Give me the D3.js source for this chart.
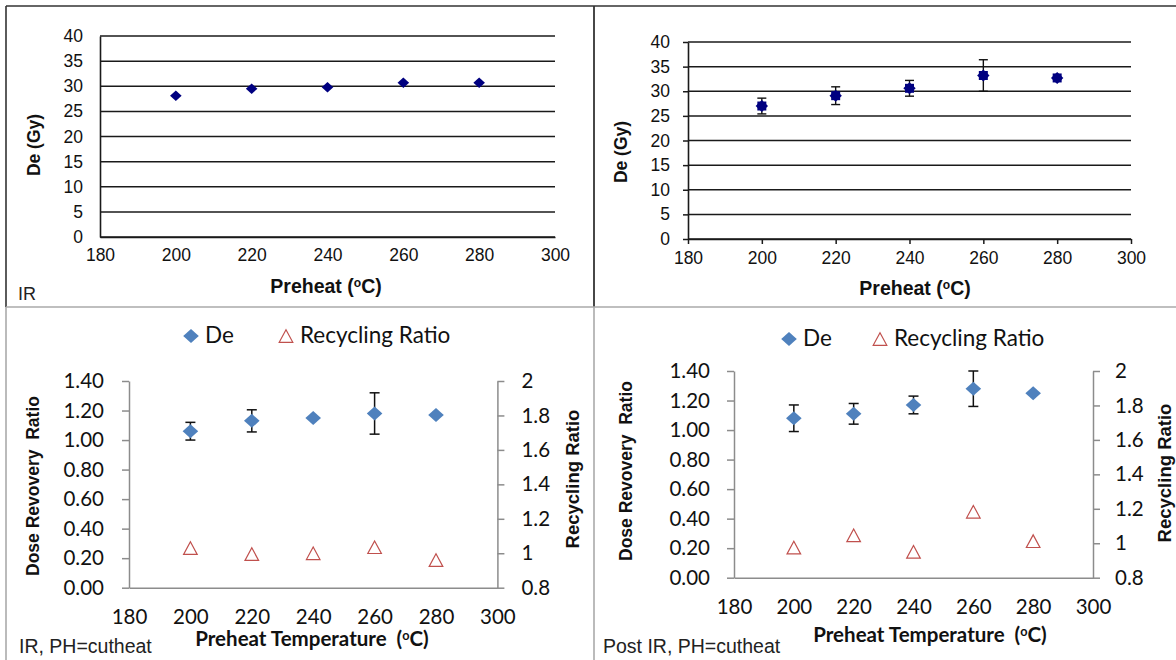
<!DOCTYPE html>
<html>
<head>
<meta charset="utf-8">
<script src="https://cdn.jsdelivr.net/npm/d3@7"></script>
<style>
  body { margin: 0; background: #fff; }
  svg { display: block; }
</style>
</head>
<body>
<script>
// ---------- DATA ----------
const preheat = [200, 220, 240, 260, 280];
const xTicks = [180, 200, 220, 240, 260, 280, 300];
const deTicks = [0, 5, 10, 15, 20, 25, 30, 35, 40];
const ratioTicks = [0, 0.2, 0.4, 0.6, 0.8, 1.0, 1.2, 1.4];
const recycTicks = [0.8, 1.0, 1.2, 1.4, 1.6, 1.8, 2.0];

// Top-left: IR De (Gy)
const deIR = [28.1, 29.5, 29.8, 30.7, 30.7];
// Top-right: De (Gy) with error
const dePost = [27.0, 29.1, 30.6, 33.2, 32.7];
const dePostErr = [1.6, 1.8, 1.6, 3.2, 0];
// Bottom-left: IR, PH=cutheat
const doseRecIR = [1.06, 1.13, 1.15, 1.18, 1.17];
const doseRecIRErr = [0.06, 0.075, 0, 0.14, 0];
const recycIR = [1.03, 0.995, 1.0, 1.035, 0.96];
// Bottom-right: Post IR, PH=cutheat
const doseRecPost = [1.08, 1.11, 1.17, 1.28, 1.25];
const doseRecPostErr = [0.09, 0.07, 0.06, 0.12, 0];
const recycPost = [0.975, 1.046, 0.95, 1.183, 1.012];

const legendLabels = ["De", "Recycling Ratio"];

// ---------- DRAW ----------
const W = 1176, H = 660;
const svg = d3.select("body").append("svg").attr("width", W).attr("height", H);

const ARIAL = "'Liberation Sans', Arial, sans-serif";
const CALIBRI = "Lato, 'Liberation Sans', sans-serif";
const navy = "#000080";
const blue = "#4F81BD";
const red = "#C0504D";
const grey = "#8c8c8c";

// panel borders
const borders = svg.append("g").attr("fill", "none");
borders.append("line").attr("x1", 6).attr("y1", 6).attr("x2", W).attr("y2", 6).attr("stroke", "#333").attr("stroke-width", 1.6);
borders.append("line").attr("x1", 6).attr("y1", 6).attr("x2", 6).attr("y2", 307).attr("stroke", "#333").attr("stroke-width", 1.6);
borders.append("line").attr("x1", 594).attr("y1", 6).attr("x2", 594).attr("y2", 307).attr("stroke", "#333").attr("stroke-width", 1.8);
borders.append("line").attr("x1", 594).attr("y1", 307).attr("x2", 594).attr("y2", H).attr("stroke", "#aaa").attr("stroke-width", 1.6);
borders.append("line").attr("x1", 6).attr("y1", 307).attr("x2", W).attr("y2", 307).attr("stroke", "#aaa").attr("stroke-width", 1.6);
borders.append("line").attr("x1", 6).attr("y1", 307).attr("x2", 6).attr("y2", H).attr("stroke", "#aaa").attr("stroke-width", 1.6);

function diamondPath(w, h) { return `M0,${-h}L${w},0L0,${h}L${-w},0Z`; }
function trianglePath(w, h) { return `M0,${-h}L${w},${h}L${-w},${h}Z`; }

function superTitle(sel, before, after) {
  sel.append("tspan").text(before);
  sel.append("tspan").attr("dy", -6).attr("font-size", "0.62em").text("o");
  sel.append("tspan").attr("dy", 6).text(after);
}

// ---------- TOP PANELS ----------
function topPanel(cfg) {
  const g = svg.append("g");
  const x = d3.scaleLinear().domain([180, 300]).range(cfg.xr);
  const y = d3.scaleLinear().domain([0, 40]).range(cfg.yr);

  // gridlines
  g.append("g").selectAll("line").data(deTicks).join("line")
    .attr("x1", cfg.xr[0]).attr("x2", cfg.xr[1])
    .attr("y1", d => y(d)).attr("y2", d => y(d))
    .attr("stroke", "#1a1a1a").attr("stroke-width", 1.5);

  // y axis
  const ya = g.append("g").attr("transform", `translate(${cfg.xr[0]},0)`)
    .call(d3.axisLeft(y).tickValues(deTicks).tickSize(cfg.ticks ? 5 : 0).tickSizeOuter(0).tickPadding(cfg.ticks ? 13 : 17));
  ya.select(".domain").attr("stroke", "#1a1a1a").attr("stroke-width", 1.6);
  ya.selectAll(".tick line").attr("stroke", "#1a1a1a").attr("stroke-width", 1.5);
  ya.selectAll("text").attr("font-family", ARIAL).attr("font-size", 17.5).attr("fill", "#111");

  // x axis
  const xa = g.append("g").attr("transform", `translate(0,${cfg.yr[0]})`)
    .call(d3.axisBottom(x).tickValues(xTicks).tickSize(cfg.ticks ? 5 : 0).tickSizeOuter(0).tickPadding(cfg.ticks ? 8 : 12));
  xa.select(".domain").attr("stroke", "#1a1a1a").attr("stroke-width", 1.6);
  xa.selectAll(".tick line").attr("stroke", "#1a1a1a").attr("stroke-width", 1.5);
  xa.selectAll("text").attr("font-family", ARIAL).attr("font-size", 17.5).attr("fill", "#111");

  // error bars
  if (cfg.err) {
    const eb = g.append("g").attr("stroke", "#111").attr("stroke-width", 1.4);
    preheat.forEach((p, i) => {
      const e = cfg.err[i];
      if (!e) return;
      const cx = x(p), y0 = y(cfg.vals[i] - e), y1 = y(cfg.vals[i] + e);
      eb.append("line").attr("x1", cx).attr("x2", cx).attr("y1", y0).attr("y2", y1);
      eb.append("line").attr("x1", cx - 4.5).attr("x2", cx + 4.5).attr("y1", y0).attr("y2", y0);
      eb.append("line").attr("x1", cx - 4.5).attr("x2", cx + 4.5).attr("y1", y1).attr("y2", y1);
    });
  }

  // markers
  const mk = g.append("g").selectAll("g").data(preheat).join("g")
    .attr("transform", (d, i) => `translate(${x(d)},${y(cfg.vals[i])})`);
  if (cfg.star) {
    mk.append("rect").attr("x", -4.5).attr("y", -4.5).attr("width", 9).attr("height", 9).attr("fill", navy);
    mk.append("path").attr("d", diamondPath(6.2, 6)).attr("fill", navy);
  } else {
    mk.append("path").attr("d", diamondPath(5.8, 5.2)).attr("fill", navy);
  }

  // titles
  g.append("text").attr("transform", `translate(${cfg.yt[0]},${cfg.yt[1]}) rotate(-90)`)
    .attr("text-anchor", "middle").attr("dominant-baseline", "central")
    .attr("font-family", ARIAL).attr("font-weight", "bold").attr("font-size", 17.5).attr("fill", "#111")
    .text("De (Gy)");
  const xt = g.append("text").attr("x", cfg.xt[0]).attr("y", cfg.xt[1])
    .attr("text-anchor", "middle").attr("font-family", ARIAL).attr("font-weight", "bold")
    .attr("font-size", 19.5).attr("fill", "#111");
  superTitle(xt, "Preheat (", "C)");
  if (cfg.note) {
    g.append("text").attr("x", cfg.note[0]).attr("y", cfg.note[1])
      .attr("font-family", ARIAL).attr("font-size", 18).attr("fill", "#222").text(cfg.note[2]);
  }
}

topPanel({ xr: [100, 555], yr: [237, 36], vals: deIR, ticks: false, star: false,
  yt: [34, 145], xt: [326, 293], note: [18, 300, "IR"] });
topPanel({ xr: [688, 1131], yr: [239, 42], vals: dePost, err: dePostErr, ticks: true, star: true,
  yt: [621, 152], xt: [915, 295] });

// ---------- BOTTOM PANELS ----------
function bottomPanel(cfg) {
  const g = svg.append("g");
  const x = d3.scaleLinear().domain([180, 300]).range(cfg.xr);
  const yL = d3.scaleLinear().domain([0, 1.4]).range(cfg.yr);
  const yR = d3.scaleLinear().domain([0.8, 2.0]).range(cfg.yr);

  // left axis
  const la = g.append("g").attr("transform", `translate(${cfg.xr[0]},0)`)
    .call(d3.axisLeft(yL).tickValues(ratioTicks).tickFormat(d3.format(".2f")).tickSize(7).tickSizeOuter(0).tickPadding(cfg.lpad));
  la.select(".domain").attr("stroke", grey).attr("stroke-width", 1.5);
  la.selectAll(".tick line").attr("stroke", grey).attr("stroke-width", 1.5);
  la.selectAll("text").attr("font-family", CALIBRI).attr("font-size", 20.5).attr("fill", "#111");

  // right axis
  const ra = g.append("g").attr("transform", `translate(${cfg.xr[1]},0)`)
    .call(d3.axisRight(yR).tickValues(recycTicks).tickFormat(d3.format("~g")).tickSize(7).tickSizeOuter(0).tickPadding(cfg.rpad));
  ra.select(".domain").attr("stroke", grey).attr("stroke-width", 1.5);
  ra.selectAll(".tick line").attr("stroke", grey).attr("stroke-width", 1.5);
  ra.selectAll("text").attr("font-family", CALIBRI).attr("font-size", 20.5).attr("fill", "#111");

  // x axis
  const xa = g.append("g").attr("transform", `translate(0,${cfg.yr[0]})`)
    .call(d3.axisBottom(x).tickValues(xTicks).tickSize(0).tickSizeOuter(0).tickPadding(cfg.xpad));
  xa.select(".domain").attr("stroke", grey).attr("stroke-width", 1.5);
  xa.selectAll("text").attr("font-family", CALIBRI).attr("font-size", 20.5).attr("fill", "#111");

  // error bars
  const eb = g.append("g").attr("stroke", "#111").attr("stroke-width", 1.5);
  preheat.forEach((p, i) => {
    const e = cfg.err[i];
    if (!e) return;
    const cx = x(p), y0 = yL(cfg.dose[i] - e), y1 = yL(cfg.dose[i] + e);
    eb.append("line").attr("x1", cx).attr("x2", cx).attr("y1", y0).attr("y2", y1);
    eb.append("line").attr("x1", cx - 5).attr("x2", cx + 5).attr("y1", y0).attr("y2", y0);
    eb.append("line").attr("x1", cx - 5).attr("x2", cx + 5).attr("y1", y1).attr("y2", y1);
  });

  // dose recovery diamonds
  g.append("g").selectAll("path").data(preheat).join("path")
    .attr("transform", (d, i) => `translate(${x(d)},${yL(cfg.dose[i])})`)
    .attr("d", diamondPath(7.8, 7)).attr("fill", blue);

  // recycling triangles
  g.append("g").selectAll("path").data(preheat).join("path")
    .attr("transform", (d, i) => `translate(${x(d)},${yR(cfg.recyc[i])})`)
    .attr("d", trianglePath(6.8, 6.3)).attr("fill", "none").attr("stroke", red).attr("stroke-width", 1.2);

  // titles
  g.append("text").attr("transform", `translate(${cfg.lt[0]},${cfg.lt[1]}) rotate(-90)`)
    .attr("text-anchor", "middle").attr("dominant-baseline", "central")
    .attr("font-family", ARIAL).attr("font-weight", "bold").attr("font-size", 17.5).attr("fill", "#111")
    .style("white-space", "pre")
    .text("Dose Revovery  Ratio");
  g.append("text").attr("transform", `translate(${cfg.rt[0]},${cfg.rt[1]}) rotate(-90)`)
    .attr("text-anchor", "middle").attr("dominant-baseline", "central")
    .attr("font-family", ARIAL).attr("font-weight", "bold").attr("font-size", 18.5).attr("fill", "#111")
    .text("Recycling Ratio");
  const xt = g.append("text").attr("x", cfg.xt[0]).attr("y", cfg.xt[1])
    .attr("text-anchor", "middle").attr("font-family", CALIBRI).attr("font-weight", "bold")
    .attr("font-size", 20.5).attr("fill", "#111").style("white-space", "pre");
  superTitle(xt, "Preheat Temperature  (", "C)");

  // footnote
  g.append("text").attr("x", cfg.note[0]).attr("y", cfg.note[1])
    .attr("font-family", ARIAL).attr("font-size", 19.5).attr("fill", "#222").text(cfg.note[2]);

  // legend
  const lg = g.append("g");
  lg.append("path").attr("transform", `translate(${cfg.leg[0]},${cfg.leg[2]})`)
    .attr("d", diamondPath(7.8, 7)).attr("fill", blue);
  lg.append("text").attr("x", cfg.leg[0] + 14).attr("y", cfg.leg[2] + 7)
    .attr("font-family", CALIBRI).attr("font-size", 22.5).attr("fill", "#111").text(legendLabels[0]);
  lg.append("path").attr("transform", `translate(${cfg.leg[1]},${cfg.leg[2]})`)
    .attr("d", trianglePath(6.8, 6.3)).attr("fill", "none").attr("stroke", red).attr("stroke-width", 1.2);
  lg.append("text").attr("x", cfg.leg[1] + 14).attr("y", cfg.leg[2] + 7)
    .attr("font-family", CALIBRI).attr("font-size", 22.5).attr("fill", "#111").text(legendLabels[1]);
}

bottomPanel({ xr: [129, 497.4], yr: [587.7, 381], dose: doseRecIR, err: doseRecIRErr, recyc: recycIR,
  lpad: 18, rpad: 17, xpad: 22, lt: [33, 486], rt: [572, 479], xt: [312, 646],
  note: [19, 653, "IR, PH=cutheat"], leg: [191, 286, 336] });
bottomPanel({ xr: [734, 1093], yr: [577.7, 371], dose: doseRecPost, err: doseRecPostErr, recyc: recycPost,
  lpad: 17, rpad: 15, xpad: 22, lt: [626, 471], rt: [1164, 473], xt: [930, 642],
  note: [603, 653, "Post IR, PH=cutheat"], leg: [789, 880, 339] });
</script>
</body>
</html>
